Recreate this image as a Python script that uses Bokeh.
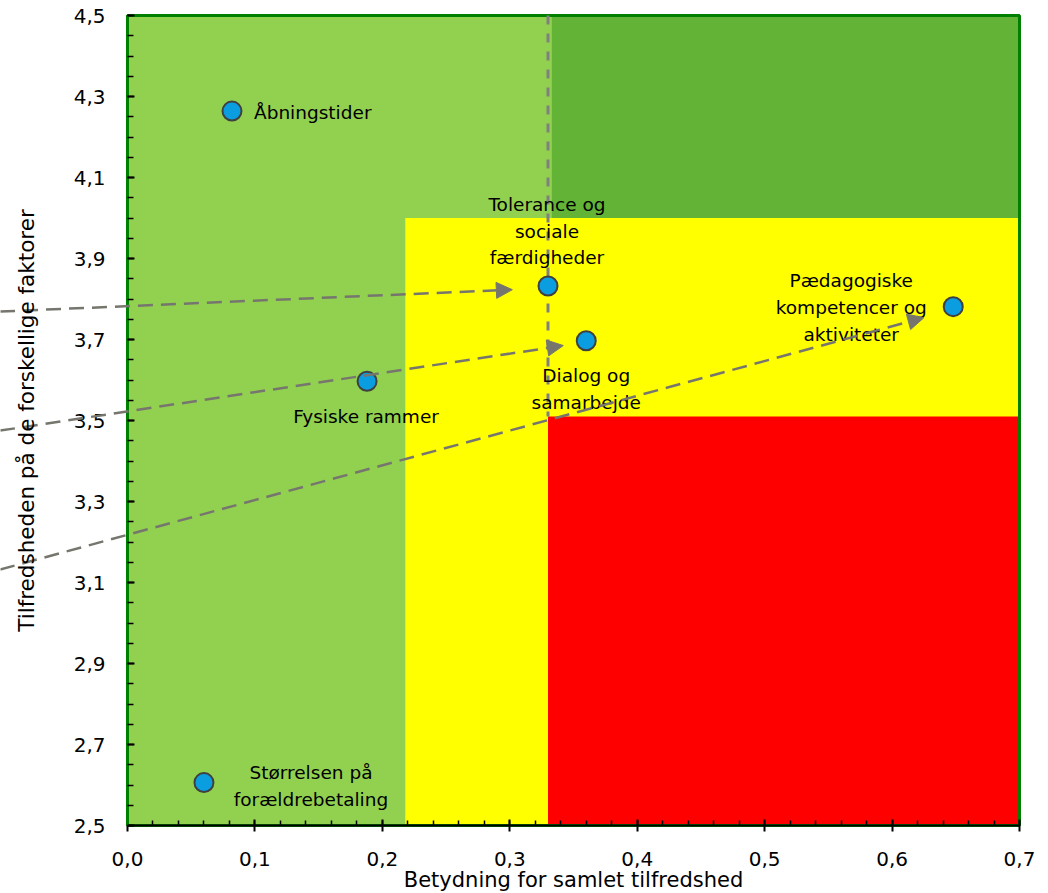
import numpy as np
from bokeh.plotting import figure
from bokeh.models import (ColumnDataSource, Arrow, NormalHead, FixedTicker,
                          CustomJSTickFormatter, Range1d, Label)
from bokeh.core.properties import value
from bokeh.embed import file_html
from bokeh.resources import INLINE

# ---------------- data ----------------
factor_names = ["Åbningstider", "Tolerance og\nsociale\nfærdigheder", "Dialog og\nsamarbejde",
                "Fysiske rammer", "Pædagogiske\nkompetencer og\naktiviteter",
                "Størrelsen på\nforældrebetaling"]
importance = [0.082, 0.330, 0.360, 0.188, 0.648, 0.060]
satisfaction = [4.264, 3.832, 3.697, 3.597, 3.781, 2.606]

# axis extents
x_min, x_max = 0.0, 0.7
y_min, y_max = 2.5, 4.5

# quadrant zones
zone_left = [0.0, 0.333, 0.218, 0.33]
zone_right = [0.7, 0.7, 0.7, 0.7]
zone_bottom = [2.5, 4.0, 2.5, 2.5]
zone_top = [4.5, 4.5, 4.0, 3.51]
zone_colors = ["#92D050", "#62B336", "#FFFF00", "#FF0000"]

# divider line
divider_x = [0.33]
divider_y0 = [4.5]
divider_y1 = [3.51]

# arrows
arrow_x_start = [-0.1, -0.1, -0.1]
arrow_y_start = [3.769, 3.475, 3.132]
arrow_x_end = [0.302, 0.342, 0.625]
arrow_y_end = [3.823, 3.685, 3.754]

x_ticks = [0.0, 0.1, 0.2, 0.3, 0.4, 0.5, 0.6, 0.7]
y_ticks = [2.5, 2.7, 2.9, 3.1, 3.3, 3.5, 3.7, 3.9, 4.1, 4.3, 4.5]

x_label = "Betydning for samlet tilfredshed"
y_label = "Tilfredsheden på de forskellige faktorer"

# label layout (screen offsets)
label_dx = [22, -1, 0, -1, -102, 107]
label_dy = [1, -55, 48, 35, 1, 3]
label_align = ["left", "center", "center", "center", "center", "center"]

# ---------------- figure ----------------
# The frame fills the whole canvas; axes are pinned at x=0 / y=2.5 so the
# arrows can run out into the axis area as in the original.
W, H = 1040, 893
left_px, right_px, top_px, bottom_px = 127, 1019, 15, 825
sx = (right_px - left_px) / (x_max - x_min)
sy = (bottom_px - top_px) / (y_max - y_min)
xr = Range1d(x_min - left_px / sx, x_max + (W - right_px) / sx)
yr = Range1d(y_min - (H - bottom_px) / sy, y_max + top_px / sy)

p = figure(width=W, height=H, output_backend="svg", toolbar_location=None,
           x_range=xr, y_range=yr,
           min_border_left=0, min_border_top=0, min_border_right=0, min_border_bottom=0)
p.background_fill_color = "white"
p.border_fill_color = "white"
p.outline_line_color = None
p.xgrid.visible = False
p.ygrid.visible = False

p.quad(left=zone_left, right=zone_right, bottom=zone_bottom, top=zone_top,
       fill_color=zone_colors, line_color=None)

# plot-area border
p.quad(left=[x_min], right=[x_max], bottom=[y_min], top=[y_max],
       fill_color=None, line_color="#008000", line_width=3)

p.segment(x0=divider_x, y0=divider_y0, x1=divider_x, y1=divider_y1,
          line_color="#808080", line_width=3, line_dash="9 9")

arrow_src = ColumnDataSource(dict(xs=arrow_x_start, ys=arrow_y_start,
                                  xe=arrow_x_end, ye=arrow_y_end))
p.add_layout(Arrow(end=NormalHead(size=16, fill_color="#76766E", line_color="#76766E"),
                   x_start="xs", y_start="ys", x_end="xe", y_end="ye", source=arrow_src,
                   line_color="#76766E", line_width=2.5, line_dash="15 8"))

src = ColumnDataSource(dict(x=importance, y=satisfaction, name=factor_names,
                            dx=label_dx, dy=label_dy, align=label_align))
p.scatter("x", "y", source=src, size=19, fill_color="#0A9DE0",
          line_color="#404040", line_width=2)
p.text("x", "y", text="name", source=src, x_offset="dx", y_offset="dy",
       text_align="align", text_baseline="middle",
       text_font=value("DejaVu Sans"), text_font_size="18.5px",
       text_color="black", text_line_height=1.28)

fmt = CustomJSTickFormatter(code="return tick.toFixed(1).replace('.', ',');")

xminor = list(np.round(np.arange(0, 0.7001, 0.02), 3))
yminor = list(np.round(np.arange(2.5, 4.5001, 0.05), 3))
p.xaxis.ticker = FixedTicker(ticks=x_ticks, minor_ticks=xminor)
p.yaxis.ticker = FixedTicker(ticks=y_ticks, minor_ticks=yminor)
p.xaxis.formatter = fmt
p.yaxis.formatter = fmt

for ax in (p.xaxis, p.yaxis):
    ax.major_label_text_font = "DejaVu Sans"
    ax.major_label_text_font_size = "20px"
    ax.major_label_text_color = "black"
    ax.major_tick_line_color = "black"
    ax.minor_tick_line_color = "black"
    ax.major_tick_line_width = 2
    ax.minor_tick_line_width = 1.5

p.xaxis.fixed_location = y_min
p.xaxis.bounds = (x_min, x_max)
p.xaxis.axis_line_color = "black"
p.xaxis.axis_line_width = 2
p.xaxis.major_tick_in = 6
p.xaxis.major_tick_out = 6
p.xaxis.minor_tick_in = 5
p.xaxis.minor_tick_out = 0
p.xaxis.major_label_standoff = 20

p.yaxis.fixed_location = x_min
p.yaxis.bounds = (y_min, y_max)
p.yaxis.axis_line_color = "#008000"
p.yaxis.axis_line_width = 3
p.yaxis.major_tick_in = 7
p.yaxis.major_tick_out = 0
p.yaxis.minor_tick_in = 6
p.yaxis.minor_tick_out = 0
p.yaxis.major_label_standoff = 22

# axis titles
p.add_layout(Label(x=(x_min + x_max) / 2, y=y_min, y_offset=-54, text=x_label,
                   text_align="center", text_baseline="middle",
                   text_font="DejaVu Sans", text_font_size="21px", text_color="black"))
p.add_layout(Label(x=x_min, y=(y_min + y_max) / 2, x_offset=-101, text=y_label,
                   angle=np.pi / 2, text_align="center", text_baseline="middle",
                   text_font="DejaVu Sans", text_font_size="21.5px", text_color="black"))

open("out.html", "w").write(file_html(p, INLINE))
